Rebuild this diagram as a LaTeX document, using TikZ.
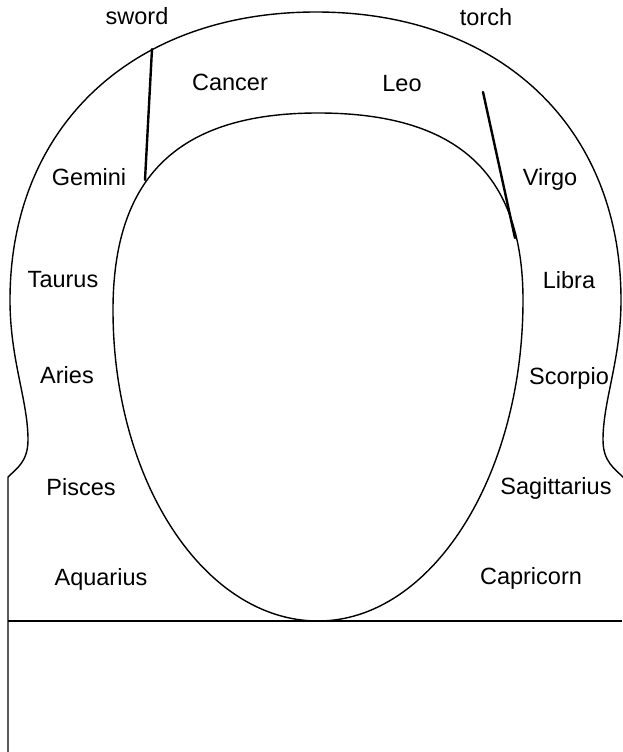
\documentclass[tikz,border=0pt]{standalone}
\usepackage{fontspec}
\setmainfont{Liberation Sans}
\usepackage{tikz}

\begin{document}
\begin{tikzpicture}[
    x=1pt, y=-1pt,
    outline/.style={line width=1.4pt, line join=round},
    blade/.style={line width=2.4pt, line cap=round},
    sign/.style={font=\fontsize{23.5}{28}\selectfont, inner sep=0pt, anchor=base},
]
\useasboundingbox (0,0) rectangle (622,752);

% === Outer frame ===
\draw[outline] (8,752) -- (8,477) .. controls (16,469) and (28,462) .. (28,440)
    .. controls (28,400) and (10,360) .. (10,300)
    .. controls (10,127) and (132,12) .. (316,12)
    .. controls (500,12) and (621,127) .. (621,300)
    .. controls (621,360) and (603,400) .. (603,440)
    .. controls (603,462) and (615,469) .. (624,478);
\draw[outline] (8,621) -- (622,621);

% === Inner egg ===
\draw[outline] (318,113) .. controls (457,113) and (523,173) .. (523,300)
    .. controls (523,477) and (431,621) .. (318,621)
    .. controls (205,621) and (113,482) .. (113,310)
    .. controls (113,176) and (179,113) .. (318,113) -- cycle;

% === Sword and torch ===
\coordinate (swordtop) at (152,49);
\coordinate (swordend) at (145,180);
\coordinate (torchtop) at (483,92);
\coordinate (torchend) at (515,238);
\draw[blade] (swordtop) -- (swordend);
\draw[blade] (torchtop) -- (torchend);

% === Labels ===
\node[sign] (sword) at (137,25) {sword};
\node[sign] (torch) at (486,26) {torch};
\node[sign] (cancer) at (230,90) {Cancer};
\node[sign] (leo) at (402,92) {Leo};
\node[sign] (gemini) at (89,185) {Gemini};
\node[sign] (virgo) at (550,185) {Virgo};
\node[sign] (taurus) at (63,287) {Taurus};
\node[sign] (libra) at (569,288) {Libra};
\node[sign] (aries) at (67,383) {Aries};
\node[sign] (scorpio) at (569,384) {Scorpio};
\node[sign] (pisces) at (81,495) {Pisces};
\node[sign] (sagittarius) at (556,494) {Sagittarius};
\node[sign] (aquarius) at (101,585) {Aquarius};
\node[sign] (capricorn) at (531,584) {Capricorn};

\end{tikzpicture}
\end{document}
